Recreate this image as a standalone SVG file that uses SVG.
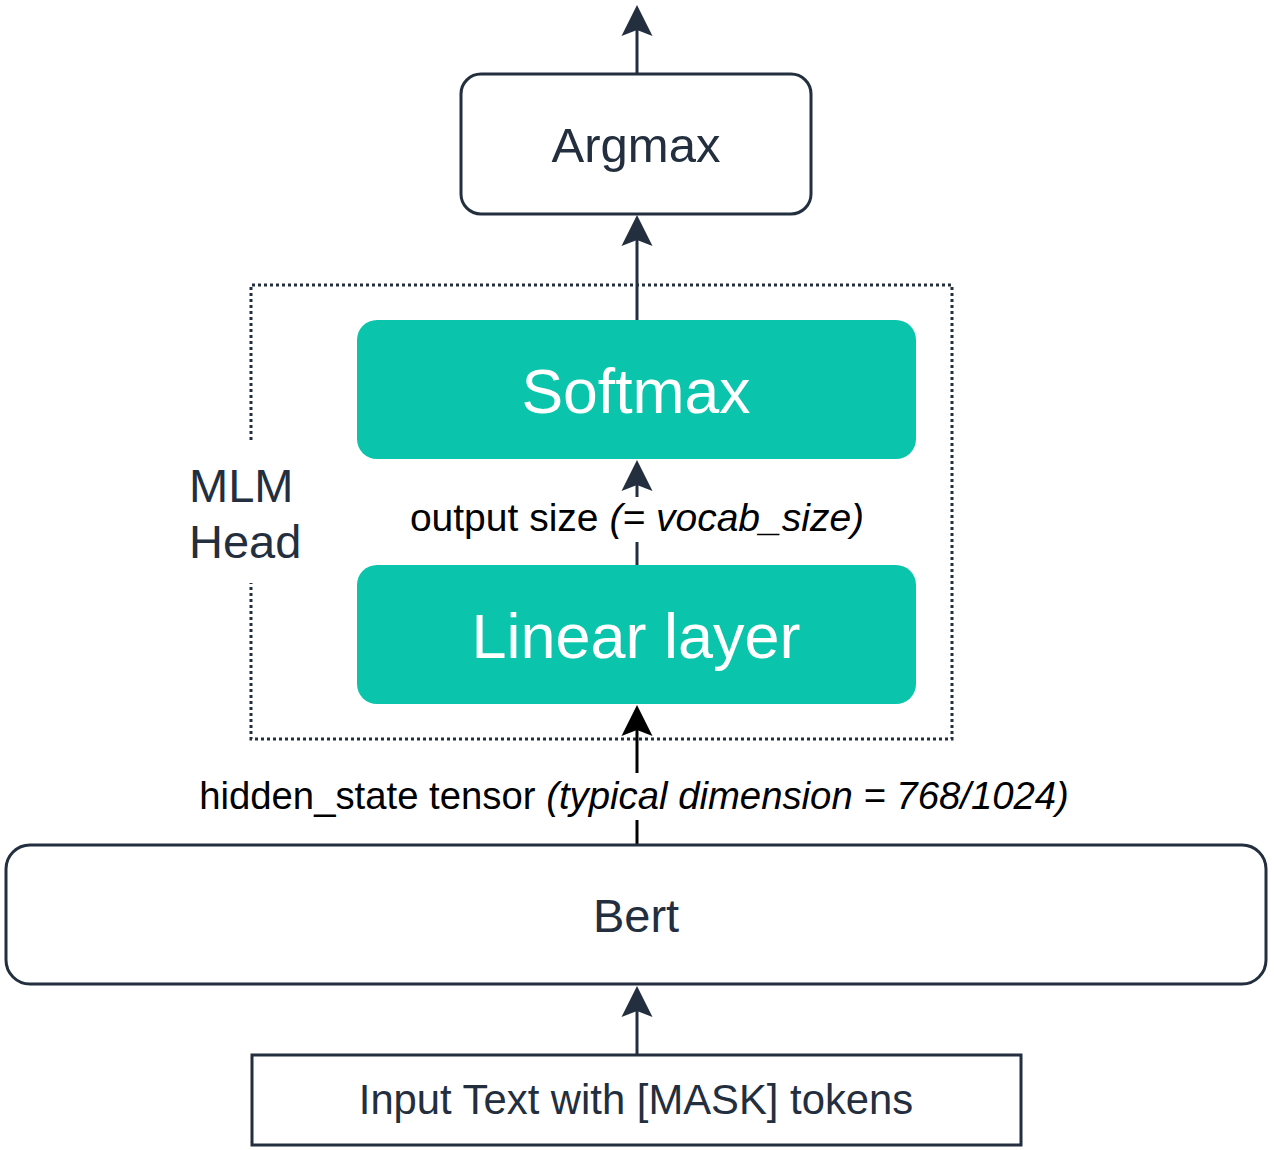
<svg xmlns="http://www.w3.org/2000/svg" width="1274" height="1150" viewBox="0 0 1274 1150">
<style>
text{font-family:"Liberation Sans",Arial,sans-serif}
.box{fill:#fff;stroke:#232F3E;stroke-width:3}
.teal{fill:#0AC5AB}
.dark{fill:#232F3E}
.white{fill:#fff}
.blk{fill:#000}
.ln{fill:none;stroke-width:3}
.lnd{stroke:#232F3E}
.lnb{stroke:#000}
.dot{fill:none;stroke:#232F3E;stroke-width:3;stroke-dasharray:3 3}
</style>
<defs>
<marker id="ad" markerUnits="userSpaceOnUse" markerWidth="40" markerHeight="40" refX="0" refY="0" orient="auto" overflow="visible">
<path d="M10,0 L-21,-15.5 L-15,0 L-21,15.5 Z" fill="#232F3E"/>
</marker>
<marker id="ab" markerUnits="userSpaceOnUse" markerWidth="40" markerHeight="40" refX="0" refY="0" orient="auto" overflow="visible">
<path d="M10,0 L-21,-15.5 L-15,0 L-21,15.5 Z" fill="#000"/>
</marker>
</defs>
<g id="mlm-head">
<path class="dot" d="M251,440 V285 H952 V739 H251 V583"/>
<text class="dark" x="189" y="502" font-size="47">MLM</text>
<text class="dark" x="189" y="558" font-size="47">Head</text>
</g>
<g id="connectors">
<path class="ln lnd" d="M637,73 V15" marker-end="url(#ad)"/>
<path class="ln lnd" d="M637,320 V225" marker-end="url(#ad)"/>
<path class="ln lnd" d="M637,565 V470" marker-end="url(#ad)"/>
<path class="ln lnb" d="M637,844 V715" marker-end="url(#ab)"/>
<path class="ln lnd" d="M637,1054 V996" marker-end="url(#ad)"/>
<rect x="412" y="497" width="452" height="45" fill="#fff"/>
<text class="blk" x="637" y="531" font-size="39" text-anchor="middle">output size <tspan font-style="italic">(= vocab_size)</tspan></text>
<rect x="195" y="773" width="880" height="47" fill="#fff"/>
<text class="blk" x="634" y="809" font-size="38.3" text-anchor="middle">hidden_state tensor <tspan font-style="italic">(typical dimension = 768/1024)</tspan></text>
</g>
<g id="argmax">
<rect class="box" x="461" y="74" width="350" height="140" rx="20"/>
<text class="dark" x="636" y="162" font-size="49" text-anchor="middle">Argmax</text>
</g>
<g id="softmax">
<rect class="teal" x="357" y="320" width="559" height="139" rx="20"/>
<text class="white" x="636" y="413" font-size="62.5" text-anchor="middle">Softmax</text>
</g>
<g id="linear">
<rect class="teal" x="357" y="565" width="559" height="139" rx="20"/>
<text class="white" x="636" y="658" font-size="63" text-anchor="middle">Linear layer</text>
</g>
<g id="bert">
<rect class="box" x="6" y="845" width="1260" height="139" rx="24"/>
<text class="dark" x="636" y="932" font-size="47" text-anchor="middle">Bert</text>
</g>
<g id="input">
<rect class="box" x="252" y="1055" width="769" height="90"/>
<text class="dark" x="636" y="1114" font-size="41.8" text-anchor="middle">Input Text with [MASK] tokens</text>
</g>
</svg>
